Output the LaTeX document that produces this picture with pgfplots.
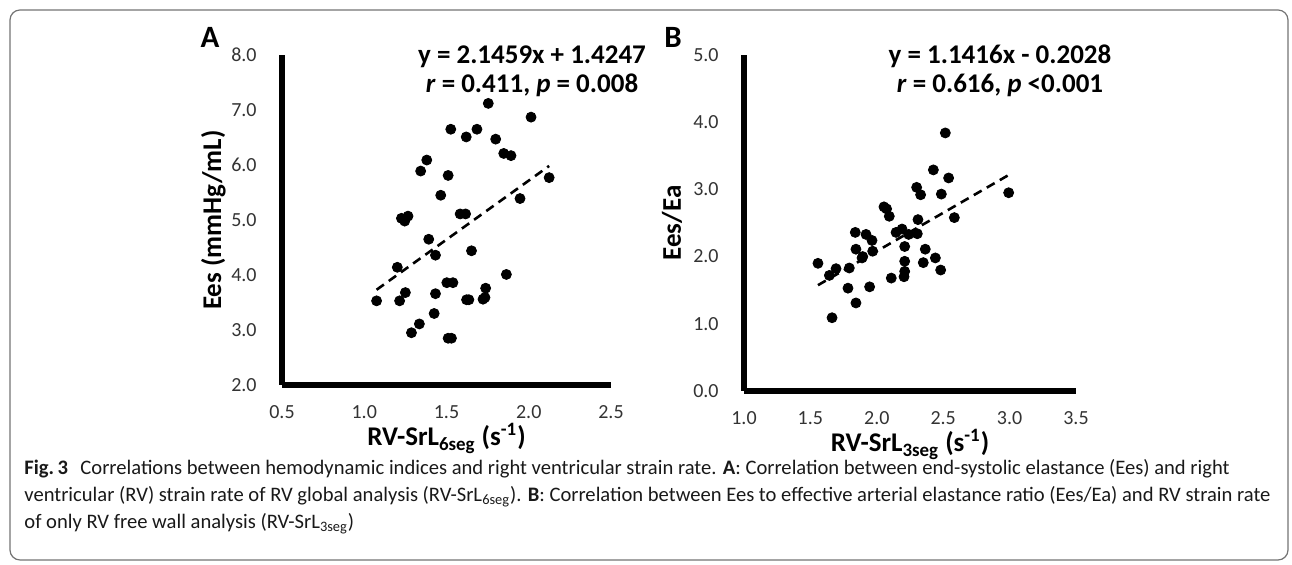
\documentclass[border=0pt]{standalone}
\usepackage{fontspec}
\setmainfont{Carlito}
\usepackage{pgfplots}
\pgfplotsset{compat=1.18}

\pgfplotstableread{
x y
1.754 7.12
2.014 6.87
1.526 6.65
1.685 6.65
1.620 6.51
1.799 6.47
1.380 6.09
1.343 5.89
1.510 5.81
1.848 6.21
1.892 6.17
2.124 5.77
1.947 5.39
1.465 5.45
1.226 5.03
1.266 5.07
1.246 4.98
1.583 5.11
1.616 5.11
1.392 4.65
1.433 4.36
1.652 4.44
1.201 4.14
1.864 4.01
1.502 3.86
1.539 3.86
1.250 3.68
1.433 3.66
1.738 3.76
1.734 3.59
1.722 3.56
1.622 3.55
1.636 3.55
1.075 3.53
1.215 3.53
1.425 3.30
1.335 3.11
1.287 2.95
1.510 2.85
1.530 2.85
}\dataA

\pgfplotstableread{
x y
2.516 3.84
2.426 3.29
2.541 3.17
2.300 3.03
2.330 2.92
2.486 2.93
2.993 2.95
2.054 2.74
2.074 2.71
2.094 2.60
2.584 2.58
2.310 2.55
1.838 2.36
1.919 2.33
1.964 2.24
2.145 2.36
2.190 2.41
2.240 2.33
2.305 2.34
2.210 2.15
2.365 2.11
1.843 2.11
1.969 2.08
1.889 1.98
1.894 2.00
1.557 1.90
2.441 1.98
2.210 1.93
2.350 1.91
1.693 1.82
1.793 1.83
1.643 1.72
2.481 1.80
2.210 1.78
2.205 1.70
2.109 1.68
1.783 1.53
1.946 1.55
1.843 1.31
1.663 1.09
}\dataB

\pgfplotsset{
  panel/.style={
    scale only axis, clip=false,
    axis x line*=bottom, axis y line*=left,
    axis line style={line width=2.6pt, -, black},
    major tick length=0pt,
    tick label style={font=\fontsize{10}{12}\selectfont, text=black!80},
    xticklabel={\pgfmathprintnumber[fixed,fixed zerofill,precision=1,assume math mode=true]{\tick}},
    yticklabel={\pgfmathprintnumber[fixed,fixed zerofill,precision=1,assume math mode=true]{\tick}},
    yticklabel style={inner sep=0pt, anchor=east, xshift=-12.5pt},
    xticklabel style={inner sep=0pt, anchor=north, yshift=-10pt},
    every axis x label/.style={at={(axis description cs:0.5,0)}, anchor=base, yshift=-30.5pt, font=\bfseries\fontsize{13.5}{15}\selectfont},
  },
  pts/.style={only marks, mark=*, mark size=2.5pt, black},
  trend/.style={no marks, black, line width=1.3pt, dash pattern=on 4.5pt off 3pt},
}

\begin{document}
\begin{tikzpicture}
\useasboundingbox (0,0) rectangle (646pt,282.5pt);
\draw[black!55, line width=0.6pt, rounded corners=5pt] (5pt,2.5pt) rectangle (644pt,277.5pt);

% Panel A
\begin{axis}[panel, at={(141pt,90pt)}, anchor=south west,
  width=164.5pt, height=165pt,
  xmin=0.5, xmax=2.5, ymin=2, ymax=8,
  xtick={0.5,1,1.5,2,2.5}, ytick={2,3,4,5,6,7,8},
  ylabel={Ees (mmHg/mL)},
  every axis y label/.style={at={(axis description cs:-0.185,0.5)}, anchor=base, rotate=90, font=\bfseries\fontsize{13.5}{15}\selectfont},
  xlabel={RV-SrL\textsubscript{6seg} (s\textsuperscript{-1})},
]
\addplot[pts] table[x=x,y=y] {\dataA};
\addplot[trend] coordinates {(1.075,3.7315) (2.124,5.9826)};
\end{axis}

% Panel B
\begin{axis}[panel, at={(372pt,87pt)}, anchor=south west,
  width=166pt, height=168pt,
  xmin=1, xmax=3.5, ymin=0, ymax=5,
  xtick={1,1.5,2,2.5,3,3.5}, ytick={0,1,2,3,4,5},
  ylabel={Ees/Ea},
  every axis y label/.style={at={(axis description cs:-0.19,0.5)}, anchor=base, rotate=90, font=\bfseries\fontsize{13.5}{15}\selectfont},
  xlabel={RV-SrL\textsubscript{3seg} (s\textsuperscript{-1})},
]
\addplot[pts] table[x=x,y=y] {\dataB};
\addplot[trend] coordinates {(1.557,1.5746) (2.993,3.2140)};
\end{axis}

% panel letters
\node[font=\bfseries\fontsize{15.5}{17}\selectfont] at (105pt,264pt) {A};
\node[font=\bfseries\fontsize{15.5}{17}\selectfont] at (336.5pt,264pt) {B};

% equations
\node[align=center, font=\bfseries\fontsize{13.5}{14.5}\selectfont] at (266pt,247pt)
  {y = 2.1459x + 1.4247\\\textit{r} = 0.411, \textit{p} = 0.008};
\node[align=center, font=\bfseries\fontsize{13.5}{14.5}\selectfont] at (500pt,247pt)
  {y = 1.1416x - 0.2028\\\textit{r} = 0.616, \textit{p} <0.001};

% caption
\begin{scope}[every node/.style={anchor=base west, inner sep=0pt, font=\fontsize{10.3}{12}\selectfont, text=black!90}]
\node at (12pt,45pt) {\textbf{Fig.\,3}\hspace{0.6em}Correlations between hemodynamic indices and right ventricular strain rate. \textbf{A}: Correlation between end-systolic elastance (Ees) and right};
\node at (12pt,31.5pt) {ventricular (RV) strain rate of RV global analysis (RV-SrL\textsubscript{6seg}). \textbf{B}: Correlation between Ees to effective arterial elastance ratio (Ees/Ea) and RV strain rate};
\node at (12pt,18pt) {of only RV free wall analysis (RV-SrL\textsubscript{3seg})};
\end{scope}
\end{tikzpicture}
\end{document}
